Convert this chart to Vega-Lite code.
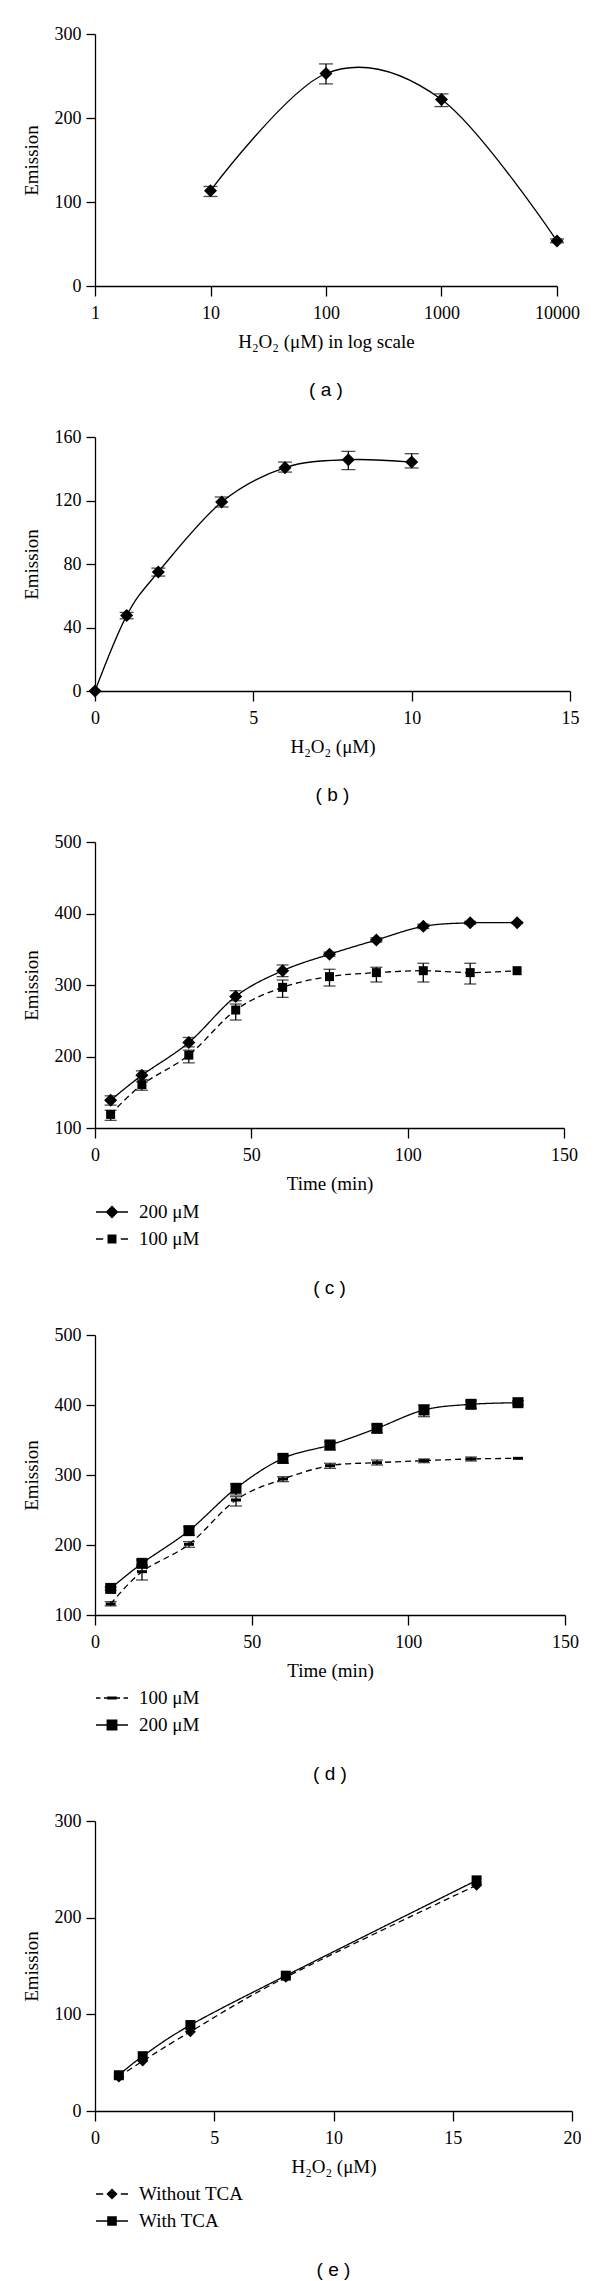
{
  "$schema": "https://vega.github.io/schema/vega-lite/v6.json",
  "padding": {"top": 25, "left": 22, "right": 0, "bottom": 0},
  "background": "white",
  "spacing": 28,
  "config": {
    "view": {"stroke": null},
    "axis": {"domainColor": "black", "domainWidth": 1.3, "tickColor": "black", "tickWidth": 1.3, "tickSize": 9, "labelFont": "Liberation Serif", "labelFontSize": 18, "labelColor": "black", "titleFont": "Liberation Serif", "titleFontSize": 19, "titleFontWeight": "normal", "titleColor": "black", "grid": false, "labelFlush": false, "labelOverlap": false},
    "axisX": {"labelPadding": 8, "titlePadding": 10, "tickSize": 10},
    "axisY": {"labelPadding": 5, "titlePadding": 13},
    "title": {"font": "Liberation Sans", "fontSize": 19, "fontWeight": "normal", "color": "black", "orient": "bottom", "anchor": "middle", "frame": "group", "offset": 30},
    "legend": {"labelFont": "Liberation Serif", "labelFontSize": 19, "labelColor": "black", "title": null, "direction": "vertical", "symbolSize": 1024, "labelOffset": 10, "rowPadding": -2, "symbolFillColor": "black", "symbolStrokeColor": "black", "symbolStrokeWidth": 1.3, "symbolOpacity": 1}
  },
  "resolve": {"scale": {"strokeDash": "independent", "shape": "independent"}, "legend": {"shape": "independent", "strokeDash": "independent"}},
  "vconcat": [
    {
      "width": 462, "height": 252,
      "title": {"text": "( a )"},
      "data": {"values": [
        {"x": 10, "y": 113.5, "lo": 106.6, "hi": 118.5},
        {"x": 100, "y": 253, "lo": 240.6, "hi": 264.4},
        {"x": 1000, "y": 222, "lo": 213.6, "hi": 228.7},
        {"x": 10000, "y": 53.5, "lo": 51.5, "hi": 56}
      ]},
      "encoding": {"x": {"field": "x", "type": "quantitative", "scale": {"type": "log", "domain": [1, 10000]}, "axis": {"values": [1, 10, 100, 1000, 10000], "format": "d", "title": "H₂O₂ (μM) in log scale"}}},
      "layer": [
        {"mark": {"type": "rule", "color": "black", "strokeWidth": 1.3}, "encoding": {"y": {"field": "lo", "type": "quantitative", "scale": {"domain": [0, 300], "nice": false}, "axis": {"values": [0, 100, 200, 300], "title": "Emission"}}, "y2": {"field": "hi"}}},
        {"mark": {"type": "tick", "orient": "horizontal", "color": "black", "size": 14, "thickness": 1.3}, "encoding": {"y": {"field": "lo", "type": "quantitative", "scale": {"domain": [0, 300], "nice": false}, "axis": {"values": [0, 100, 200, 300], "title": "Emission"}}}},
        {"mark": {"type": "tick", "orient": "horizontal", "color": "black", "size": 14, "thickness": 1.3}, "encoding": {"y": {"field": "hi", "type": "quantitative", "scale": {"domain": [0, 300], "nice": false}, "axis": {"values": [0, 100, 200, 300], "title": "Emission"}}}},
        {"mark": {"type": "line", "color": "black", "strokeWidth": 1.3, "interpolate": "cardinal"}, "encoding": {"y": {"field": "y", "type": "quantitative", "scale": {"domain": [0, 300], "nice": false}, "axis": {"values": [0, 100, 200, 300], "title": "Emission"}}}},
        {"mark": {"type": "point", "shape": "diamond", "filled": true, "color": "black", "opacity": 1, "size": 170}, "encoding": {"y": {"field": "y", "type": "quantitative", "scale": {"domain": [0, 300], "nice": false}, "axis": {"values": [0, 100, 200, 300], "title": "Emission"}}}}
      ]
    },
    {
      "width": 475, "height": 254,
      "title": {"text": "( b )"},
      "data": {"values": [
        {"x": 0, "y": 0, "lo": null, "hi": null},
        {"x": 1, "y": 47.5, "lo": 45.5, "hi": 49.5},
        {"x": 2, "y": 75, "lo": 72.4, "hi": 77.4},
        {"x": 4, "y": 119, "lo": 115.9, "hi": 122.2},
        {"x": 6, "y": 140.7, "lo": 137.9, "hi": 144.2},
        {"x": 8, "y": 145.7, "lo": 139.4, "hi": 151},
        {"x": 10, "y": 144.2, "lo": 140.5, "hi": 149.5}
      ]},
      "encoding": {"x": {"field": "x", "type": "quantitative", "scale": {"domain": [0, 15], "nice": false}, "axis": {"values": [0, 5, 10, 15], "title": "H₂O₂ (μM)"}}},
      "layer": [
        {"transform": [{"filter": "datum.lo != null"}], "mark": {"type": "rule", "color": "black", "strokeWidth": 1.3}, "encoding": {"y": {"field": "lo", "type": "quantitative", "scale": {"domain": [0, 160], "nice": false}, "axis": {"values": [0, 40, 80, 120, 160], "title": "Emission"}}, "y2": {"field": "hi"}}},
        {"transform": [{"filter": "datum.lo != null"}], "mark": {"type": "tick", "orient": "horizontal", "color": "black", "size": 14, "thickness": 1.3}, "encoding": {"y": {"field": "lo", "type": "quantitative", "scale": {"domain": [0, 160], "nice": false}, "axis": {"values": [0, 40, 80, 120, 160], "title": "Emission"}}}},
        {"transform": [{"filter": "datum.lo != null"}], "mark": {"type": "tick", "orient": "horizontal", "color": "black", "size": 14, "thickness": 1.3}, "encoding": {"y": {"field": "hi", "type": "quantitative", "scale": {"domain": [0, 160], "nice": false}, "axis": {"values": [0, 40, 80, 120, 160], "title": "Emission"}}}},
        {"mark": {"type": "line", "color": "black", "strokeWidth": 1.3, "interpolate": "cardinal"}, "encoding": {"y": {"field": "y", "type": "quantitative", "scale": {"domain": [0, 160], "nice": false}, "axis": {"values": [0, 40, 80, 120, 160], "title": "Emission"}}}},
        {"mark": {"type": "point", "shape": "diamond", "filled": true, "color": "black", "opacity": 1, "size": 170}, "encoding": {"y": {"field": "y", "type": "quantitative", "scale": {"domain": [0, 160], "nice": false}, "axis": {"values": [0, 40, 80, 120, 160], "title": "Emission"}}}}
      ]
    },
    {
      "width": 469, "height": 286,
      "title": {"text": "( c )"},
      "data": {"values": [
        {"t": 5, "y": 138.8, "lo": 132, "hi": 145, "s": "200 μM"},
        {"t": 15, "y": 173.8, "lo": 167.8, "hi": 179.9, "s": "200 μM"},
        {"t": 30, "y": 219.6, "lo": 213.5, "hi": 226.6, "s": "200 μM"},
        {"t": 45, "y": 284, "lo": 278, "hi": 292, "s": "200 μM"},
        {"t": 60, "y": 320, "lo": 311.7, "hi": 328, "s": "200 μM"},
        {"t": 75, "y": 343, "lo": 340, "hi": 346, "s": "200 μM"},
        {"t": 90, "y": 363, "lo": 360, "hi": 366, "s": "200 μM"},
        {"t": 105, "y": 382, "lo": 379, "hi": 385, "s": "200 μM"},
        {"t": 120, "y": 387, "lo": 385, "hi": 389, "s": "200 μM"},
        {"t": 135, "y": 387, "lo": 386, "hi": 388, "s": "200 μM"},
        {"t": 5, "y": 119, "lo": 110.7, "hi": 124.8, "s": "100 μM"},
        {"t": 15, "y": 160.7, "lo": 152.8, "hi": 164.5, "s": "100 μM"},
        {"t": 30, "y": 201.9, "lo": 191.1, "hi": 208.9, "s": "100 μM"},
        {"t": 45, "y": 265, "lo": 251, "hi": 273.4, "s": "100 μM"},
        {"t": 60, "y": 296.7, "lo": 282.7, "hi": 307, "s": "100 μM"},
        {"t": 75, "y": 311.7, "lo": 298.6, "hi": 322, "s": "100 μM"},
        {"t": 90, "y": 317.3, "lo": 304.2, "hi": 324.8, "s": "100 μM"},
        {"t": 105, "y": 320, "lo": 304.2, "hi": 330.4, "s": "100 μM"},
        {"t": 120, "y": 317.3, "lo": 301.4, "hi": 330.4, "s": "100 μM"},
        {"t": 135, "y": 320, "lo": null, "hi": null, "s": "100 μM"}
      ]},
      "encoding": {"x": {"field": "t", "type": "quantitative", "scale": {"domain": [0, 150], "nice": false}, "axis": {"values": [0, 50, 100, 150], "title": "Time (min)"}}},
      "layer": [
        {"transform": [{"filter": "datum.lo != null"}], "mark": {"type": "rule", "color": "black", "strokeWidth": 1.3}, "encoding": {"y": {"field": "lo", "type": "quantitative", "scale": {"domain": [100, 500], "nice": false, "zero": false}, "axis": {"values": [100, 200, 300, 400, 500], "title": "Emission"}}, "y2": {"field": "hi"}}},
        {"transform": [{"filter": "datum.lo != null"}], "mark": {"type": "tick", "orient": "horizontal", "color": "black", "size": 12, "thickness": 1.3}, "encoding": {"y": {"field": "lo", "type": "quantitative", "scale": {"domain": [100, 500], "nice": false, "zero": false}, "axis": {"values": [100, 200, 300, 400, 500], "title": "Emission"}}}},
        {"transform": [{"filter": "datum.lo != null"}], "mark": {"type": "tick", "orient": "horizontal", "color": "black", "size": 12, "thickness": 1.3}, "encoding": {"y": {"field": "hi", "type": "quantitative", "scale": {"domain": [100, 500], "nice": false, "zero": false}, "axis": {"values": [100, 200, 300, 400, 500], "title": "Emission"}}}},
        {"mark": {"type": "line", "color": "black", "strokeWidth": 1.3, "interpolate": "cardinal"}, "encoding": {
          "y": {"field": "y", "type": "quantitative", "scale": {"domain": [100, 500], "nice": false, "zero": false}, "axis": {"values": [100, 200, 300, 400, 500], "title": "Emission"}},
          "strokeDash": {"field": "s", "type": "nominal", "scale": {"domain": ["200 μM", "100 μM"], "range": [[1, 0], [6, 4]]}, "legend": {"orient": "none", "legendX": 0, "legendY": 353}}
        }},
        {"transform": [{"filter": "datum.s === '200 μM'"}], "mark": {"type": "point", "shape": "M0,-1.3L1.3,0L0,1.3L-1.3,0Z", "filled": true, "color": "black", "opacity": 1, "size": 100}, "encoding": {
          "y": {"field": "y", "type": "quantitative", "scale": {"domain": [100, 500], "nice": false, "zero": false}, "axis": {"values": [100, 200, 300, 400, 500], "title": "Emission"}}
        }},
        {"transform": [{"filter": "datum.s === '100 μM'"}], "mark": {"type": "point", "shape": "M-0.9,-0.9H0.9V0.9H-0.9Z", "filled": true, "color": "black", "opacity": 1, "size": 100}, "encoding": {
          "y": {"field": "y", "type": "quantitative", "scale": {"domain": [100, 500], "nice": false, "zero": false}, "axis": {"values": [100, 200, 300, 400, 500], "title": "Emission"}}
        }},
        {"transform": [{"filter": "false"}], "mark": {"type": "point", "filled": true, "color": "black", "stroke": "black", "strokeWidth": 1.3, "opacity": 1}, "encoding": {
          "shape": {"field": "s", "type": "nominal", "scale": {"domain": ["200 μM", "100 μM"], "range": ["M-1,-0.04H1V0.04H-1ZM0,-0.4L0.4,0L0,0.4L-0.4,0Z", "M-1,-0.04H-0.55V0.04H-1ZM0.55,-0.04H1V0.04H0.55ZM-0.28,-0.28H0.28V0.28H-0.28Z"]}}
        }}
      ]
    },
    {
      "width": 470, "height": 280,
      "title": {"text": "( d )"},
      "data": {"values": [
        {"t": 5, "y": 138, "lo": 136, "hi": 140, "s": "200 μM"},
        {"t": 15, "y": 173.8, "lo": 169, "hi": 178.6, "s": "200 μM"},
        {"t": 30, "y": 220.5, "lo": 214, "hi": 226, "s": "200 μM"},
        {"t": 45, "y": 281, "lo": 271.4, "hi": 286.7, "s": "200 μM"},
        {"t": 60, "y": 323.8, "lo": 316.7, "hi": 328.6, "s": "200 μM"},
        {"t": 75, "y": 342.9, "lo": 335.7, "hi": 347.6, "s": "200 μM"},
        {"t": 90, "y": 366.7, "lo": 360.5, "hi": 371.4, "s": "200 μM"},
        {"t": 105, "y": 392.9, "lo": 383.3, "hi": 400, "s": "200 μM"},
        {"t": 120, "y": 401, "lo": 395.2, "hi": 405.7, "s": "200 μM"},
        {"t": 135, "y": 403.3, "lo": 400.5, "hi": 406, "s": "200 μM"},
        {"t": 5, "y": 115.7, "lo": 112.9, "hi": 119, "s": "100 μM"},
        {"t": 15, "y": 161.9, "lo": 150, "hi": 171.4, "s": "100 μM"},
        {"t": 30, "y": 201, "lo": 196.7, "hi": 204.8, "s": "100 μM"},
        {"t": 45, "y": 264.3, "lo": 255.7, "hi": 269, "s": "100 μM"},
        {"t": 60, "y": 294.3, "lo": 290.5, "hi": 297.6, "s": "100 μM"},
        {"t": 75, "y": 313.3, "lo": 309.5, "hi": 316.7, "s": "100 μM"},
        {"t": 90, "y": 317.6, "lo": 314.3, "hi": 321.4, "s": "100 μM"},
        {"t": 105, "y": 320.5, "lo": 317.6, "hi": 322.9, "s": "100 μM"},
        {"t": 120, "y": 322.9, "lo": 320, "hi": 325.7, "s": "100 μM"},
        {"t": 135, "y": 323.8, "lo": null, "hi": null, "s": "100 μM"}
      ]},
      "encoding": {"x": {"field": "t", "type": "quantitative", "scale": {"domain": [0, 150], "nice": false}, "axis": {"values": [0, 50, 100, 150], "title": "Time (min)"}}},
      "layer": [
        {"transform": [{"filter": "datum.lo != null"}], "mark": {"type": "rule", "color": "black", "strokeWidth": 1.3}, "encoding": {"y": {"field": "lo", "type": "quantitative", "scale": {"domain": [100, 500], "nice": false, "zero": false}, "axis": {"values": [100, 200, 300, 400, 500], "title": "Emission"}}, "y2": {"field": "hi"}}},
        {"transform": [{"filter": "datum.lo != null"}], "mark": {"type": "tick", "orient": "horizontal", "color": "black", "size": 12, "thickness": 1.3}, "encoding": {"y": {"field": "lo", "type": "quantitative", "scale": {"domain": [100, 500], "nice": false, "zero": false}, "axis": {"values": [100, 200, 300, 400, 500], "title": "Emission"}}}},
        {"transform": [{"filter": "datum.lo != null"}], "mark": {"type": "tick", "orient": "horizontal", "color": "black", "size": 12, "thickness": 1.3}, "encoding": {"y": {"field": "hi", "type": "quantitative", "scale": {"domain": [100, 500], "nice": false, "zero": false}, "axis": {"values": [100, 200, 300, 400, 500], "title": "Emission"}}}},
        {"mark": {"type": "line", "color": "black", "strokeWidth": 1.3, "interpolate": "cardinal"}, "encoding": {
          "y": {"field": "y", "type": "quantitative", "scale": {"domain": [100, 500], "nice": false, "zero": false}, "axis": {"values": [100, 200, 300, 400, 500], "title": "Emission"}},
          "strokeDash": {"field": "s", "type": "nominal", "scale": {"domain": ["100 μM", "200 μM"], "range": [[6, 4], [1, 0]]}, "legend": {"orient": "none", "legendX": 0, "legendY": 346}}
        }},
        {"transform": [{"filter": "datum.s === '100 μM'"}], "mark": {"type": "point", "shape": "M-1,-0.3H1V0.3H-1Z", "filled": true, "color": "black", "opacity": 1, "size": 100}, "encoding": {
          "y": {"field": "y", "type": "quantitative", "scale": {"domain": [100, 500], "nice": false, "zero": false}, "axis": {"values": [100, 200, 300, 400, 500], "title": "Emission"}}
        }},
        {"transform": [{"filter": "datum.s === '200 μM'"}], "mark": {"type": "point", "shape": "M-1.1,-1.1H1.1V1.1H-1.1Z", "filled": true, "color": "black", "opacity": 1, "size": 100}, "encoding": {
          "y": {"field": "y", "type": "quantitative", "scale": {"domain": [100, 500], "nice": false, "zero": false}, "axis": {"values": [100, 200, 300, 400, 500], "title": "Emission"}}
        }},
        {"transform": [{"filter": "false"}], "mark": {"type": "point", "filled": true, "color": "black", "stroke": "black", "strokeWidth": 1.3, "opacity": 1}, "encoding": {
          "shape": {"field": "s", "type": "nominal", "scale": {"domain": ["100 μM", "200 μM"], "range": ["M-1,-0.04H-0.72V0.04H-1ZM-0.5,-0.04H-0.3V0.04H-0.5ZM0.3,-0.04H0.5V0.04H0.3ZM0.72,-0.04H1V0.04H0.72ZM-0.3,-0.1H0.3V0.1H-0.3Z", "M-1,-0.04H1V0.04H-1ZM-0.34,-0.34H0.34V0.34H-0.34Z"]}}
        }}
      ]
    },
    {
      "width": 477, "height": 290,
      "title": {"text": "( e )"},
      "data": {"values": [
        {"x": 1, "y": 35.3, "s": "Without TCA"},
        {"x": 2, "y": 51.6, "s": "Without TCA"},
        {"x": 4, "y": 82, "s": "Without TCA"},
        {"x": 8, "y": 138.4, "s": "Without TCA"},
        {"x": 16, "y": 233.6, "s": "Without TCA"},
        {"x": 1, "y": 37, "s": "With TCA"},
        {"x": 2, "y": 56.7, "s": "With TCA"},
        {"x": 4, "y": 88.9, "s": "With TCA"},
        {"x": 8, "y": 140, "s": "With TCA"},
        {"x": 16, "y": 238.6, "s": "With TCA"}
      ]},
      "encoding": {"x": {"field": "x", "type": "quantitative", "scale": {"domain": [0, 20], "nice": false}, "axis": {"values": [0, 5, 10, 15, 20], "title": "H₂O₂ (μM)"}}},
      "layer": [
        {"mark": {"type": "line", "color": "black", "strokeWidth": 1.3, "interpolate": "cardinal"}, "encoding": {
          "y": {"field": "y", "type": "quantitative", "scale": {"domain": [0, 300], "nice": false}, "axis": {"values": [0, 100, 200, 300], "title": "Emission"}},
          "strokeDash": {"field": "s", "type": "nominal", "scale": {"domain": ["Without TCA", "With TCA"], "range": [[6, 4], [1, 0]]}, "legend": {"orient": "none", "legendX": 0, "legendY": 356}}
        }},
        {"transform": [{"filter": "datum.s === 'Without TCA'"}], "mark": {"type": "point", "shape": "M0,-1.1L1.1,0L0,1.1L-1.1,0Z", "filled": true, "color": "black", "opacity": 1, "size": 100}, "encoding": {
          "y": {"field": "y", "type": "quantitative", "scale": {"domain": [0, 300], "nice": false}, "axis": {"values": [0, 100, 200, 300], "title": "Emission"}}
        }},
        {"transform": [{"filter": "datum.s === 'With TCA'"}], "mark": {"type": "point", "shape": "M-1,-1H1V1H-1Z", "filled": true, "color": "black", "opacity": 1, "size": 100}, "encoding": {
          "y": {"field": "y", "type": "quantitative", "scale": {"domain": [0, 300], "nice": false}, "axis": {"values": [0, 100, 200, 300], "title": "Emission"}}
        }},
        {"transform": [{"filter": "false"}], "mark": {"type": "point", "filled": true, "color": "black", "stroke": "black", "strokeWidth": 1.3, "opacity": 1}, "encoding": {
          "shape": {"field": "s", "type": "nominal", "scale": {"domain": ["Without TCA", "With TCA"], "range": ["M-1,-0.04H-0.55V0.04H-1ZM0.55,-0.04H1V0.04H0.55ZM0,-0.35L0.35,0L0,0.35L-0.35,0Z", "M-1,-0.04H1V0.04H-1ZM-0.3,-0.3H0.3V0.3H-0.3Z"]}}
        }}
      ]
    }
  ]
}
